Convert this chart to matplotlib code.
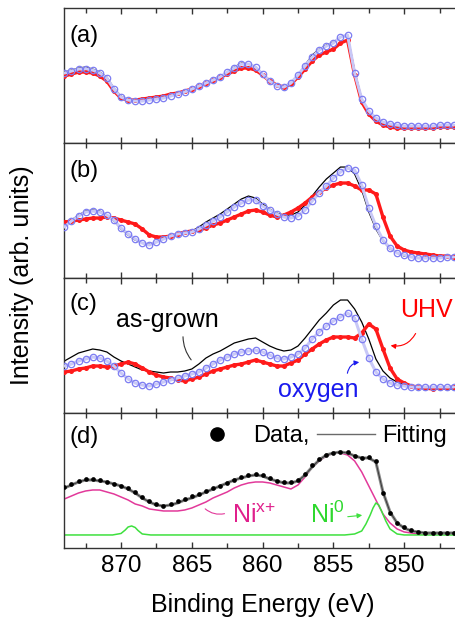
import numpy as np
import matplotlib.pyplot as plt
from matplotlib.lines import Line2D
from matplotlib.ticker import MultipleLocator

plt.rcParams['font.family'] = ['Liberation Sans', 'DejaVu Sans']

# binding energy grid (eV), 874.0 ... 846.5
energy = np.arange(874.0, 846.4, -0.5)

# (a)
a_black = [71, 73, 75, 76, 74, 71, 66, 55, 47, 43, 42, 42, 43, 44, 45, 47, 49, 51, 54, 57,
           60, 63, 66, 71, 76, 80, 79, 76, 69, 62, 57, 55, 60, 68, 78, 88, 94, 98, 101, 106,
           108, 72, 44, 31, 24, 20, 18, 17, 16, 16, 16, 16, 17, 17, 17, 17]
a_red = [67, 69, 71, 71, 70, 67, 62, 52, 45, 43, 43, 44, 45, 46, 47, 49, 50, 52, 54, 57,
         60, 63, 66, 69, 72, 75, 75, 73, 68, 62, 58, 56, 59, 66, 74, 82, 88, 91, 94, 100,
         103, 68, 41, 29, 22, 18, 16, 15, 15, 15, 15, 15, 15, 16, 16, 16]
a_blue = [70, 72, 74, 74.5, 73, 70, 65, 54, 46, 43, 42, 42, 43, 44, 45, 47, 49, 51, 54, 57,
          60, 63, 66, 71, 75, 79, 79, 76, 69, 62, 57, 56, 60, 68, 77, 86, 93, 97, 100, 106,
          108, 70, 44, 32, 25, 21, 19, 18, 17, 17, 17, 17, 17, 18, 18, 18]

# (b)
b_black = [52, 58, 63, 67, 68, 67, 63, 57, 49, 43, 38, 35, 34, 36, 39, 42, 44, 45, 47, 51,
           56, 60, 64, 69, 74, 79, 82, 80, 74, 69, 65, 63, 63, 66, 73, 82, 91, 99, 105, 111,
           111, 104, 88, 66, 49, 37, 29, 25, 22, 21, 20, 20, 20, 20, 21, 21]
b_red = [56, 57, 58, 59, 60, 60, 61, 60, 58, 56, 54, 49, 43, 41, 41, 42, 44, 46, 47, 48,
         50, 53, 55, 58, 61, 64, 67, 68, 66, 63, 61, 63, 66, 70, 75, 81, 86, 90, 93, 95,
         95, 92, 88, 88, 84, 61, 42, 32, 28, 26, 25, 24, 23, 22, 22, 21]
b_blue = [51, 57, 62, 66, 67, 66, 63, 58, 50, 44, 39, 35, 33, 36, 39, 42, 44, 45, 46, 49,
          53, 57, 61, 66, 71, 75, 78, 78, 72, 68, 64, 61, 60, 62, 68, 77, 85, 92, 100, 106,
          110, 108, 93, 70, 52, 38, 30, 25, 23, 21, 20, 20, 20, 20, 21, 21]

# (c)
c_black = [52, 56, 60, 62, 64, 63, 61, 56, 52, 49, 46, 43, 42, 41, 40, 41, 41, 42, 44, 49,
           55, 59, 62, 66, 70, 72, 74, 75, 71, 67, 64, 62, 63, 67, 75, 84, 93, 100, 108, 113,
           113, 104, 91, 74, 54, 42, 35, 31, 28, 26, 25, 24, 24, 24, 24, 24]
c_red = [41, 42, 44, 45, 47, 47, 46, 47, 49, 51, 49, 45, 41, 38, 36, 35, 33, 32, 34, 36,
         39, 42, 44, 46, 48, 49, 51, 53, 51, 49, 47, 47, 50, 53, 59, 64, 69, 73, 76, 76,
         76, 75, 80, 89, 84, 64, 45, 34, 30, 27, 26, 25, 24, 25, 25, 26]
c_blue = [47, 49, 52, 54, 56, 55, 52, 47, 40, 34, 30, 28, 27, 29, 31, 33, 35, 37, 39, 41,
          45, 49, 53, 56, 59, 61, 62, 63, 61, 58, 55, 54, 56, 59, 65, 74, 81, 87, 92, 96,
          100, 95, 74, 55, 41, 34, 30, 28, 27, 26, 26, 26, 26, 26, 26, 26]

# (d)
d_data = [61, 64, 67, 69, 69, 68, 66, 64, 62, 60, 56, 51, 47, 44, 42, 44, 47, 49, 52, 54,
          57, 60, 62, 65, 68, 71, 73, 74, 73, 70, 67, 66, 66, 68, 74, 83, 89, 93, 95, 96,
          96, 92, 90, 91, 87, 55, 35, 25, 21, 18, 16, 15, 15, 15, 15, 15]
d_fit = [60, 63, 66, 68, 68, 67, 66, 64, 62, 59, 55, 50, 46, 43, 42, 43, 45, 48, 50, 53,
         56, 59, 62, 65, 68, 70, 72, 73, 72, 69, 67, 65, 65, 67, 73, 81, 88, 93, 95, 96,
         95, 92, 90, 90, 86, 56, 36, 25, 20, 17, 16, 15, 15, 15, 15, 15]
d_nix = [49, 52, 55, 57, 58, 58, 56, 54, 51, 48, 44, 42, 39, 38, 37, 37, 37, 38, 40, 43,
         46, 50, 53, 56, 60, 63, 65, 66, 66, 65, 63, 61, 59, 63, 71, 81, 87, 92, 95, 95,
         93, 87, 76, 62, 48, 34, 25, 19, 16, 15, 14, 14, 14, 14, 14, 14]
ni0_energy = [874.0, 870.6, 870.0, 869.7, 869.5, 869.25, 869.0, 868.8, 868.5, 867.9,
              854.2, 853.5, 853.0, 852.7, 852.4, 852.2, 852.0, 851.8, 851.6, 851.3,
              851.0, 850.5, 850.0, 846.0]
ni0 = [13, 13, 14.5, 18, 21, 22, 20.5, 17.5, 14, 13,
       13, 14, 17, 24, 33, 40, 45, 43, 37, 27,
       19, 14, 13, 13]

RED = '#ff1a1a'
BLUE = '#7d7df2'
PINK = '#e2399a'
GREEN = '#3ee03e'

fig = plt.figure(figsize=(4.55, 6.21), dpi=100)
gs = fig.add_gridspec(4, 1, left=0.1415, right=1.0128, top=0.987, bottom=0.1176, hspace=0)
axes = [fig.add_subplot(gs[i]) for i in range(4)]

panels = [(a_black, a_red, a_blue), (b_black, b_red, b_blue), (c_black, c_red, c_blue)]
for ax, (blk, red, blu) in zip(axes[:3], panels):
    ax.plot(energy, blk, color='black', lw=0.9, zorder=2)
    ax.plot(energy, red, color=RED, lw=2.4, zorder=3, solid_capstyle='round')
    ax.plot(energy, red, 'o', color=RED, ms=3.6, mew=0, zorder=3)
    ax.plot(energy, blu, color='#c8c8f7', lw=2.2, zorder=4, solid_capstyle='round')
    ax.plot(energy, blu, 'o', mfc='none', mec=BLUE, ms=4.6, mew=0.9, zorder=4)

ax = axes[3]
ax.plot(energy, d_nix, color=PINK, lw=1.1, zorder=2)
ax.plot(ni0_energy, ni0, color=GREEN, lw=1.1, zorder=2)
ax.plot(energy, d_fit, color='#8a8a8a', lw=2.2, zorder=3)
ax.plot(energy, d_fit, color='#3a3a3a', lw=0.7, zorder=3)
ax.plot(energy, d_data, 'o', color='black', ms=3.4, mew=0, zorder=4)

labels = ['(a)', '(b)', '(c)', '(d)']
label_y = [0.748, 0.748, 0.765, 0.78]
for i, ax in enumerate(axes):
    ax.set_xlim(874, 846)
    ax.set_ylim(0, 135)
    ax.set_yticks([])
    ax.xaxis.set_major_locator(MultipleLocator(5))
    ax.xaxis.set_minor_locator(MultipleLocator(2.5))
    ax.tick_params(axis='x', which='both', direction='in', top=True, bottom=True,
                   width=1, color='#333333', labelsize=17.5, pad=5,
                   labelbottom=(i == 3))
    ax.tick_params(axis='x', which='major', length=4.5)
    ax.tick_params(axis='x', which='minor', length=3.5)
    for s in ax.spines.values():
        s.set_color('#333333')
        s.set_linewidth(1.0)
    ax.text(0.014, label_y[i], labels[i], transform=ax.transAxes, fontsize=17,
            ha='left', va='baseline')

# panel (c) annotations
ax = axes[2]
ax.text(866.75, 86, 'as-grown', fontsize=18, ha='center', va='baseline')
ax.annotate('', xy=(864.92, 51), xytext=(865.62, 79),
            arrowprops=dict(arrowstyle='-', color='#333333', lw=0.8,
                            connectionstyle='arc3,rad=0.2'))
ax.text(850.3, 96, 'UHV', fontsize=18, color='#ff0000', ha='left', va='baseline')
ax.annotate('', xy=(851.15, 68), xytext=(849.1, 82),
            arrowprops=dict(arrowstyle='-|>', color='#ff0000', lw=0.8, mutation_scale=7,
                            connectionstyle='arc3,rad=-0.4'))
ax.text(856.1, 16, 'oxygen', fontsize=18, color='#1a1aee', ha='center', va='baseline')
ax.annotate('', xy=(852.98, 51), xytext=(854.04, 37),
            arrowprops=dict(arrowstyle='-|>', color='#1a1aee', lw=0.8, mutation_scale=7,
                            connectionstyle='arc3,rad=-0.45'))

# panel (d) annotations
ax = axes[3]
ax.text(862.16, 25, r'Ni$^{\mathregular{x{+}}}$', fontsize=18, color='#e0208c',
        ha='left', va='baseline')
ax.annotate('', xy=(862.5, 35), xytext=(864.2, 41),
            arrowprops=dict(arrowstyle='-', color=PINK, lw=0.8,
                            connectionstyle='arc3,rad=0.3'))
ax.text(856.65, 25, r'Ni$^{\mathregular{0}}$', fontsize=18, color='#2fd82f',
        ha='left', va='baseline')
ax.annotate('', xy=(852.77, 33), xytext=(854.18, 31),
            arrowprops=dict(arrowstyle='-|>', color=GREEN, lw=0.8, mutation_scale=7))

handles = [Line2D([], [], ls='none', marker='o', color='black', ms=9.5),
           Line2D([], [], color='#6a6a6a', lw=1.0)]
ax.legend(handles, ['Data,', 'Fitting'], loc='center left', bbox_to_anchor=(0.312, 0.828),
          ncol=2, frameon=False, fontsize=17, handlelength=2.45, handletextpad=0.3,
          columnspacing=0.34, borderpad=0, borderaxespad=0)

fig.text(0.577, 1 - 612 / 621, 'Binding Energy (eV)', fontsize=18, ha='center', va='baseline')
fig.text(0.048, 1 - 275 / 621, 'Intensity (arb. units)', fontsize=18, rotation=90,
         ha='center', va='center')

fig.savefig('out.png', dpi=100)
